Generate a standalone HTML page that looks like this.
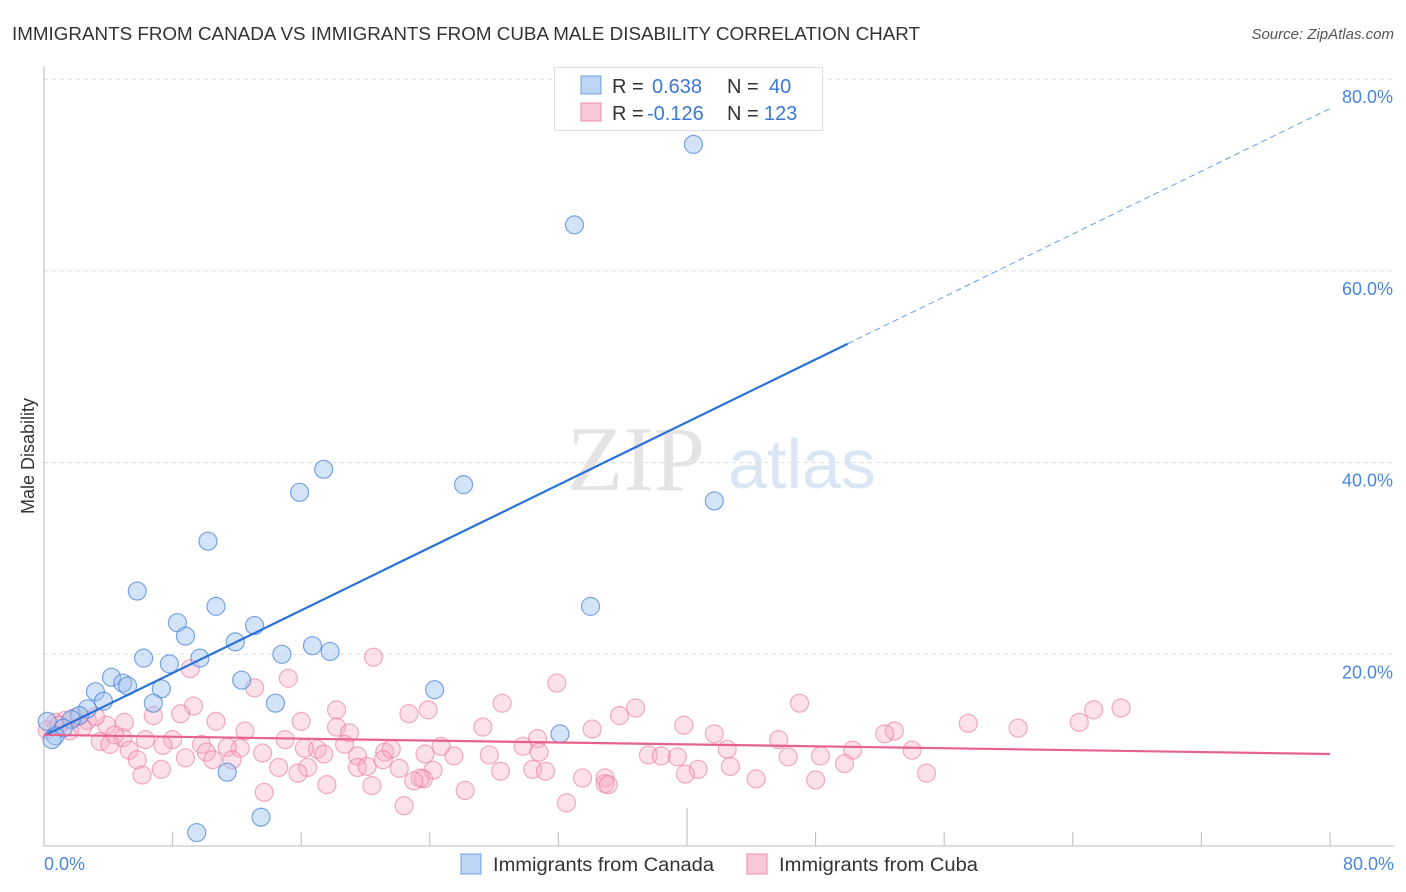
<!DOCTYPE html>
<html><head><meta charset="utf-8"><style>
body{margin:0;background:#fff;font-family:"Liberation Sans",sans-serif;}
#wrap{position:relative;width:1406px;height:892px;overflow:hidden;}
</style></head><body>
<div id="wrap">
<svg id="svg" width="1406" height="892" xmlns="http://www.w3.org/2000/svg">
<text x="12" y="40" font-size="18" fill="#333" textLength="908" lengthAdjust="spacingAndGlyphs">IMMIGRANTS FROM CANADA VS IMMIGRANTS FROM CUBA MALE DISABILITY CORRELATION CHART</text>
<text x="1394" y="39" font-size="15" fill="#555" font-style="italic" text-anchor="end">Source: ZipAtlas.com</text>
<text x="34" y="456" font-size="18" fill="#333" transform="rotate(-90 34 456)" text-anchor="middle">Male Disability</text>
<g><text x="636" y="490" font-size="92" fill="#e4e4e4" font-family="Liberation Serif,serif" text-anchor="middle">ZIP</text><text x="802" y="488" font-size="70" fill="#dbe6f4" text-anchor="middle">atlas</text></g>
<g id="grid"></g><g id="marks"></g>
<g>
<rect x="554.5" y="67.5" width="268" height="63" fill="#fff" stroke="#ddd"/>
<rect x="581" y="76" width="20" height="18" fill="#bcd5f5" stroke="#6c9ee0"/>
<rect x="581" y="103" width="20" height="18" fill="#f9c8d6" stroke="#ee8eab"/>
<text y="93" font-size="20"><tspan x="612" fill="#333">R = </tspan><tspan x="652" fill="#3a78d4">0.638</tspan><tspan x="727" fill="#333">N = </tspan><tspan x="769" fill="#3a78d4">40</tspan></text>
<text y="120" font-size="20"><tspan x="612" fill="#333">R = </tspan><tspan x="647" fill="#3a78d4">-0.126</tspan><tspan x="727" fill="#333">N = </tspan><tspan x="764" fill="#3a78d4">123</tspan></text>
</g>
<g>
<rect x="461" y="854" width="20" height="20" fill="#bcd5f5" stroke="#6c9ee0"/>
<text x="493" y="871" font-size="19" fill="#333" textLength="221" lengthAdjust="spacingAndGlyphs">Immigrants from Canada</text>
<rect x="747" y="854" width="20" height="20" fill="#f9c8d6" stroke="#ee8eab"/>
<text x="779" y="871" font-size="19" fill="#333" textLength="199" lengthAdjust="spacingAndGlyphs">Immigrants from Cuba</text>
</g>
</svg></div>
<script>
const yTicks=[20,40,60,80];
const xTickLabels=["0.0%","80.0%"];
const canadaX=[40.4,33.0,17.4,15.9,26.1,41.7,10.2,5.8,34.0,10.7,8.3,8.8,13.1,11.9,6.2,14.8,16.7,17.8,7.8,9.7,4.2,4.9,5.2,3.2,7.3,12.3,24.3,3.7,6.8,14.4,2.7,2.2,1.7,1.2,0.7,0.2,0.5,32.1,11.4,13.5,9.5];
const canadaY=[73.2,64.8,39.3,36.9,37.7,36.0,31.8,26.6,25.0,25.0,23.3,21.9,23.0,21.3,19.6,20.0,20.9,20.3,19.0,19.6,17.6,17.0,16.7,16.1,16.4,17.3,16.3,15.1,14.9,14.9,14.3,13.6,13.2,12.3,11.5,13.0,11.1,11.7,7.7,3.0,1.4];
const cubaPx=[[191,669],[374,657],[557,683],[288,678],[502,703],[799,703],[1121,708],[1093,710],[1079,722],[969,723],[1018,728],[635,708],[620,716],[428,710],[409,714],[337,710],[255,688],[193,706],[181,714],[153,716],[125,722],[106,725],[88,720],[75,718],[65,720],[55,722],[47,730],[58,725],[70,731],[83,727],[96,717],[216,721],[245,731],[302,721],[336,727],[349,733],[483,727],[684,725],[715,734],[592,729],[778,740],[894,731],[884,734],[912,750],[853,750],[538,739],[523,746],[539,752],[441,746],[385,752],[391,749],[345,744],[318,749],[305,748],[285,740],[240,748],[228,747],[202,744],[173,740],[145,740],[123,738],[115,735],[100,742],[130,750],[163,745],[110,744],[207,752],[263,753],[324,754],[358,756],[425,754],[454,756],[490,755],[649,755],[662,756],[677,757],[727,749],[789,757],[821,756],[845,764],[137,760],[185,758],[212,760],[232,760],[307,767],[278,767],[298,773],[357,767],[367,766],[383,760],[399,768],[433,770],[500,771],[533,769],[546,771],[582,778],[605,778],[698,769],[730,766],[686,774],[926,773],[815,780],[142,775],[162,769],[327,785],[372,786],[423,779],[420,778],[413,781],[605,784],[609,785],[756,779],[264,792],[465,790],[404,806],[566,803]];
const cubaX=cubaPx.map(p=>+((p[0]-44)/16.075).toFixed(1));
const cubaY=cubaPx.map(p=>+((846-p[1])/9.585).toFixed(1));
const canadaTrend=[11.5,0.818];
const cubaTrend=[11.6,-0.025];

const X=v=>44+v*16.075, Y=v=>846-v*9.585;
const NS="http://www.w3.org/2000/svg";
function mk(tag,attrs,parent){const e=document.createElementNS(NS,tag);for(const k in attrs)e.setAttribute(k,attrs[k]);parent.appendChild(e);return e;}
const grid=document.getElementById('grid'),marks=document.getElementById('marks');
yTicks.forEach(t=>{
 const l=mk('line',{x1:44,x2:1394,y1:Y(t),y2:Y(t),stroke:'#ddd','stroke-dasharray':'4,4'},grid);
 
 
 const tx=mk('text',{x:1393,y:Y(t)+24,'font-size':18,fill:'#4a86dc','text-anchor':'end'},grid);
 tx.textContent=t.toFixed(1)+'%';
 
 
});
const ax=mk('path',{d:'M44 66V846H1394',fill:'none',stroke:'#bbb'},grid);


for(let i=1;i<=10;i++){const x=X(i*8);const tk=mk('line',{x1:x,x2:x,y1:846,y2:i==5?808:832,stroke:'#bbb'},grid);
 
 }
[[0,"start",44],[80,"end",1394]].forEach((a,i)=>{const t=mk('text',{x:a[2],y:870,'font-size':18,fill:'#4a86dc','text-anchor':a[1]},grid);t.textContent=xTickLabels[i];
 
 });
cubaX.forEach((v,i)=>{const c=mk('circle',{cx:X(v),cy:Y(cubaY[i]),r:9,fill:'rgba(246,170,195,0.35)',stroke:'rgba(234,120,156,0.6)','stroke-width':1.2},marks);
 
 });
canadaX.forEach((v,i)=>{const c=mk('circle',{cx:X(v),cy:Y(canadaY[i]),r:9,fill:'rgba(160,196,240,0.45)',stroke:'rgba(70,130,215,0.7)','stroke-width':1.2},marks);
 
 });
const ct=v=>canadaTrend[0]+canadaTrend[1]*v, pt=v=>cubaTrend[0]+cubaTrend[1]*v;
let l=mk('line',{x1:X(0),y1:Y(ct(0)),x2:X(50),y2:Y(ct(50)),stroke:'#2a72d8','stroke-width':2.2},marks);


l=mk('line',{x1:X(50),y1:Y(ct(50)),x2:X(80),y2:Y(ct(80)),stroke:'#6a9ee0','stroke-width':1,'stroke-dasharray':'6,4'},marks);


l=mk('line',{x1:X(0),y1:Y(pt(0)),x2:X(80),y2:Y(pt(80)),stroke:'#e8628e','stroke-width':2.2},marks);


</script></body></html>
